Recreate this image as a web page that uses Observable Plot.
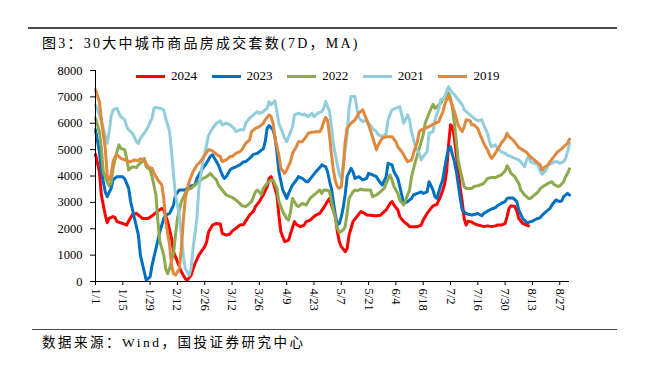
<!DOCTYPE html>
<html><head><meta charset="utf-8">
<script src="https://cdn.jsdelivr.net/npm/d3@7"></script>
<script src="https://cdn.jsdelivr.net/npm/@observablehq/plot@0.6"></script>
<style>
body{margin:0;background:#fff;}
#wrap{position:relative;width:647px;height:365px;overflow:hidden;background:#fff;font-family:"Liberation Serif","Noto Sans CJK SC",serif;color:#000;}
.rule{position:absolute;background:#4a4a4a;}
#title{position:absolute;left:42px;top:36px;font-size:14px;line-height:16px;letter-spacing:2.25px;white-space:nowrap;}
#caption{position:absolute;left:42px;top:335px;font-size:13.5px;line-height:16px;letter-spacing:2.5px;white-space:nowrap;}
#chart{position:absolute;left:0;top:60px;}
.sw{position:absolute;height:3px;width:29px;}
.lt{position:absolute;font-size:13px;line-height:14px;white-space:nowrap;}
</style></head>
<body><div id="wrap">
<div class="rule" style="left:28px;top:27px;width:589px;height:2px;"></div>
<div id="title">图3：30大中城市商品房成交套数(7D，MA)</div>
<div id="chart"></div>
<div class="rule" style="left:32px;top:329px;width:585px;height:1px;"></div>
<div id="caption">数据来源：Wind，国投证券研究中心</div>
</div>
<script>
// x tick labels (axis spans a non-leap calendar year, 1 Jan – 31 Aug)
const tickLabels = ["1/1","1/15","1/29","2/12","2/26","3/12","3/26","4/9","4/23","5/7","5/21","6/4","6/18","7/2","7/16","7/30","8/13","8/27"];
const yTicks = [0,1000,2000,3000,4000,5000,6000,7000,8000];
const seriesNames = ["2024","2023","2022","2021","2019"];
const seriesColors = ["#FF0000","#0070C0","#8DAA4E","#92CDDC","#E0883C"];

// values: [days since 1 Jan, units sold (7-day MA)]
const s2024 = [[0,4820],[2,4160],[3,3280],[5,2520],[6,2230],[7,2390],[9,2460],[10,2420],[11,2270],[14,2200],[16,2140],[17,2290],[19,2540],[21,2580],[23,2460],[24,2390],[27,2390],[29,2490],[32,2670],[34,2770],[35,2710],[37,2270],[39,1630],[40,1130],[42,750],[44,370],[46,110],[47,40],[49,240],[51,680],[53,1000],[56,1320],[57,1510],[58,1890],[60,2140],[62,2200],[64,2180],[65,1820],[67,1760],[69,1800],[70,1910],[72,2010],[74,2140],[76,2160],[77,2290],[79,2520],[81,2670],[82,2840],[84,3030],[86,3280],[88,3600],[89,3910],[90,3975],[91,3785],[93,3280],[94,2520],[95,1890],[97,1510],[99,1570],[100,1820],[102,2270],[103,2160],[105,2080],[107,2140],[108,2270],[110,2330],[112,2460],[113,2520],[115,2580],[117,2800],[119,3050],[120,3150],[121,2900],[123,2460],[124,1890],[125,1510],[126,1320],[128,1130],[129,1250],[130,1760],[131,2010],[132,2270],[134,2460],[136,2650],[138,2580],[139,2520],[141,2510],[143,2490],[144,2490],[146,2510],[148,2650],[149,2710],[151,2960],[152,3030],[153,2900],[155,2710],[156,2460],[158,2270],[160,2160],[161,2080],[163,2080],[165,2080],[167,2140],[168,2330],[170,2580],[172,2770],[173,2870],[175,2920],[177,3250],[178,3450],[179,3700],[180,4165],[181,5180],[182,5940],[183,5880],[184,5430],[185,4800],[186,4165],[187,3530],[188,3030],[189,2390],[190,2140],[191,2290],[193,2250],[194,2200],[196,2140],[198,2110],[199,2080],[201,2110],[203,2080],[205,2110],[206,2140],[208,2140],[210,2200],[211,2460],[212,2770],[213,2870],[215,2840],[216,2670],[217,2390],[219,2200],[221,2140],[222,2110]];
const s2023 = [[0,5750],[2,4920],[3,4160],[5,3400],[6,3215],[8,3530],[9,3850],[11,3975],[12,3975],[14,3975],[15,3890],[17,3530],[18,3030],[20,2390],[22,1760],[23,1000],[25,370],[26,50],[28,180],[29,620],[31,1250],[33,1890],[35,2390],[36,2520],[38,2580],[40,2900],[41,3280],[43,3470],[45,3470],[46,3470],[48,3600],[51,3660],[52,3910],[55,4290],[57,4500],[59,4760],[60,4800],[61,4670],[63,4420],[65,4040],[66,3910],[67,3975],[69,4230],[70,4290],[72,4350],[74,4420],[76,4545],[77,4545],[79,4670],[81,4820],[83,4860],[84,4920],[86,5030],[87,5300],[88,5810],[89,5910],[91,5750],[92,5490],[93,4920],[94,4165],[96,3470],[98,3150],[99,3340],[101,3660],[103,3850],[104,3975],[106,3910],[108,3785],[109,3785],[111,3975],[113,4165],[115,4320],[116,4420],[117,4380],[118,4350],[119,4150],[120,3800],[121,3500],[122,3000],[123,2500],[124,2150],[125,2200],[126,2450],[127,2800],[128,3300],[129,3975],[131,4290],[132,4165],[133,3910],[135,3975],[137,3850],[139,3910],[140,4100],[142,4040],[144,3975],[145,3850],[147,3660],[149,3975],[150,4480],[152,4420],[153,4165],[155,3910],[156,3600],[158,2960],[160,3030],[162,3150],[163,3280],[165,3340],[167,3400],[168,3340],[170,3400],[171,3785],[173,3470],[174,3215],[175,3150],[176,3400],[177,3650],[178,3850],[179,4300],[180,4700],[181,5050],[182,5110],[183,4800],[184,4545],[185,4165],[186,3660],[187,3150],[188,2710],[190,2580],[191,2550],[193,2520],[194,2540],[196,2580],[198,2490],[199,2580],[201,2670],[203,2750],[205,2800],[206,2870],[208,2960],[210,3030],[211,3150],[212,3170],[214,3170],[216,3030],[217,2710],[219,2390],[221,2240],[222,2240],[224,2290],[226,2370],[228,2420],[229,2520],[231,2650],[233,2770],[234,2900],[236,3090],[238,3030],[239,3060],[240,3215],[242,3340],[243,3280]];
const s2022 = [[0,6190],[2,5680],[3,5050],[4,4165],[6,3785],[7,3630],[8,3720],[9,4290],[11,4920],[12,5180],[13,5050],[15,4990],[16,4670],[17,4230],[19,4350],[21,4320],[22,4420],[24,4545],[25,4670],[26,4350],[28,4230],[29,3975],[31,3280],[32,2270],[33,1510],[35,1000],[36,490],[37,300],[38,490],[40,1060],[41,1760],[42,2390],[44,3030],[46,3340],[47,3470],[49,3530],[51,3660],[52,3720],[54,3850],[56,3940],[57,3975],[59,4100],[60,4000],[62,3850],[63,3660],[65,3470],[67,3280],[69,3215],[70,3190],[72,3090],[74,2960],[75,2870],[77,2840],[79,2960],[80,3030],[82,3400],[83,3470],[85,3300],[86,3530],[88,3720],[90,3850],[91,3850],[93,3530],[94,3030],[96,2650],[98,2390],[99,2330],[100,2650],[101,3150],[103,2900],[104,2840],[106,2960],[108,2900],[110,3150],[112,3280],[113,3340],[115,3470],[116,3340],[117,3470],[119,3460],[120,3400],[121,3030],[123,2390],[124,2010],[125,1860],[127,1950],[128,2080],[129,2580],[130,3150],[132,3400],[133,3470],[134,3440],[136,3500],[138,3470],[139,3470],[141,3470],[142,3215],[144,3280],[146,3400],[148,3530],[149,3720],[151,4040],[152,3850],[153,3600],[155,3340],[156,3090],[158,2900],[159,3090],[161,3470],[162,3975],[164,4545],[166,5050],[168,5560],[169,6000],[171,6380],[173,6720],[174,6570],[175,6630],[177,6760],[178,6890],[180,7080],[181,7140],[182,6950],[183,6570],[184,6000],[185,5300],[186,4545],[188,3910],[189,3600],[190,3530],[191,3530],[193,3530],[194,3600],[196,3630],[198,3680],[199,3720],[201,3910],[203,3940],[205,3940],[206,3975],[208,4040],[210,4190],[211,4390],[212,4270],[213,4100],[215,3975],[217,3720],[218,3470],[220,3280],[222,3150],[223,3150],[225,3280],[227,3400],[228,3530],[230,3630],[232,3720],[234,3785],[235,3680],[237,3600],[238,3620],[240,3785],[241,3975],[242,4100],[243,4270]];
const s2021 = [[0,6700],[2,6320],[4,5810],[6,5240],[7,5680],[8,6250],[9,6510],[11,6570],[12,6380],[13,6250],[15,6130],[16,5870],[17,5750],[19,5620],[21,5300],[22,5240],[23,5430],[25,5620],[27,5870],[29,6190],[30,6570],[31,6600],[33,6570],[35,6510],[36,6190],[38,5680],[39,4920],[40,4040],[41,3280],[43,2520],[44,1760],[45,1000],[46,490],[48,240],[49,490],[50,1250],[52,2390],[53,3530],[55,4545],[57,5200],[58,5550],[60,5810],[62,6000],[64,6090],[65,5940],[67,6000],[69,5940],[71,5810],[72,5680],[74,5750],[76,5750],[77,6000],[79,6190],[81,6320],[83,6440],[84,6380],[86,6440],[88,6570],[89,6820],[90,6700],[92,6850],[93,6440],[94,6000],[95,5810],[97,5430],[98,5300],[99,5490],[101,5870],[102,6320],[104,6380],[106,6320],[107,6350],[109,6250],[111,6380],[112,6250],[114,6380],[116,6440],[117,6570],[118,6820],[120,6440],[121,5870],[122,5180],[124,4420],[125,4040],[126,3910],[127,4420],[129,5560],[130,6570],[131,7010],[133,7010],[134,6570],[135,6190],[137,6060],[139,6130],[140,6000],[142,5810],[144,5680],[145,5560],[147,5490],[149,5620],[150,6130],[152,6510],[154,6570],[156,6630],[157,6320],[158,6000],[160,6320],[161,6130],[162,5680],[164,5110],[166,4860],[167,4610],[168,4735],[170,4920],[171,5620],[173,5680],[174,6130],[176,6570],[177,6900],[178,6900],[179,7000],[180,7200],[181,7390],[182,7250],[183,7150],[184,7080],[186,6890],[188,6700],[189,6510],[191,6380],[193,6250],[194,6190],[196,6090],[198,6130],[199,5940],[201,5620],[202,5300],[203,5110],[205,5180],[206,5050],[208,4920],[210,4860],[211,4800],[213,4735],[215,4670],[217,4610],[218,4545],[220,4350],[221,4610],[222,4735],[223,4545],[225,4480],[227,4420],[228,4165],[229,4065],[231,4230],[232,4420],[234,4480],[235,4545],[237,4545],[238,4480],[240,4545],[241,4670],[242,4920],[243,5240]];
const s2019 = [[0,7270],[2,6820],[3,6130],[5,5050],[6,4040],[7,3850],[8,4040],[9,4545],[10,4730],[11,4800],[13,4670],[15,4610],[17,4545],[18,4545],[20,4610],[22,4580],[23,4650],[25,4610],[27,4350],[29,4290],[30,4100],[32,3850],[34,3660],[35,3150],[36,2270],[38,1380],[39,620],[40,300],[41,240],[43,490],[44,1250],[45,2270],[46,3150],[48,3785],[50,4165],[52,4420],[53,4480],[55,4670],[57,4900],[58,5000],[60,4950],[62,4820],[64,4735],[65,4545],[67,4610],[69,4735],[70,4735],[72,4860],[74,4920],[75,4990],[77,5240],[79,5370],[80,5680],[82,5810],[84,5875],[86,6000],[87,6130],[89,6320],[90,6250],[91,6000],[92,5430],[94,4800],[95,4290],[97,4100],[98,4230],[100,4545],[101,4860],[103,5110],[104,5300],[106,5300],[108,5490],[109,5620],[111,5660],[113,5680],[115,5680],[116,5810],[117,6050],[118,6220],[119,6100],[120,5500],[121,4800],[122,4200],[123,3800],[124,3600],[125,3530],[126,3600],[127,4300],[128,5300],[129,5810],[131,6000],[133,6130],[135,6380],[137,6510],[138,6320],[140,5940],[142,5490],[144,4990],[145,5180],[147,5430],[149,5490],[150,5490],[152,5490],[154,5300],[155,5110],[157,4920],[159,4670],[160,4545],[162,4600],[163,4860],[165,5300],[166,5680],[167,5750],[169,5810],[171,5870],[173,5960],[174,6000],[176,6060],[177,6250],[178,6400],[179,6700],[180,6900],[181,7010],[182,6850],[183,6650],[184,6440],[185,6190],[186,5900],[188,5680],[189,5870],[190,6130],[192,6100],[193,5940],[194,5940],[196,5800],[197,5600],[198,5430],[199,5240],[201,4990],[202,4800],[203,4670],[204,4750],[206,4990],[207,5110],[208,5240],[210,5430],[211,5620],[212,5490],[214,5370],[216,5180],[217,5080],[219,4990],[221,4900],[222,4800],[224,4670],[226,4545],[228,4420],[229,4230],[230,4320],[232,4420],[233,4545],[235,4735],[237,4920],[239,5030],[240,5110],[242,5240],[243,5400]];
const seriesValues = [s2024, s2023, s2022, s2021, s2019];

const YEAR = 2023;
const dayToDate = d => new Date(Date.UTC(YEAR, 0, 1 + d));
const labelToDate = s => { const [m, d] = s.split("/").map(Number); return new Date(Date.UTC(YEAR, m - 1, d)); };
const tickDates = tickLabels.map(labelToDate);
const fmt = d3.utcFormat("%-m/%-d");

const rows = seriesNames.flatMap((name, i) => seriesValues[i].map(([d, v]) => ({name, date: dayToDate(d), value: v})));

const chart = Plot.plot({
  width: 647, height: 260,
  marginLeft: 95, marginRight: 78, marginTop: 10, marginBottom: 39,
  style: {fontFamily: "Liberation Serif, serif", fontSize: "12.5px", color: "#000", background: "transparent"},
  x: {type: "utc", domain: [dayToDate(0), dayToDate(243)]},
  y: {domain: [0, 8000]},
  color: {domain: seriesNames, range: seriesColors},
  marks: [
    Plot.axisY({ticks: yTicks, tickSize: 5, tickPadding: 8, tickFormat: d => String(d), label: null, stroke: "#000"}),
    Plot.axisX({ticks: tickDates, tickFormat: fmt, tickRotate: 90, tickSize: 4, tickPadding: 3, label: null, stroke: "#000"}),
    ...seriesNames.map(name => Plot.line(rows.filter(r => r.name === name), {x: "date", y: "value", stroke: "name", strokeWidth: 3, strokeLinejoin: "round"})),
    Plot.ruleX([dayToDate(0)], {stroke: "#000", strokeWidth: 1}),
    Plot.ruleY([0], {stroke: "#000", strokeWidth: 1})
  ]
});
document.getElementById("chart").appendChild(chart);

// legend inside the plot area
const wrap = document.getElementById("wrap");
seriesNames.forEach((name, i) => {
  const left = 136 + i * 75.6;
  const sw = document.createElement("div");
  sw.className = "sw"; sw.style.left = left + "px"; sw.style.top = "74.5px"; sw.style.background = seriesColors[i];
  const t = document.createElement("div");
  t.className = "lt"; t.style.left = (left + 35) + "px"; t.style.top = "69px"; t.textContent = name;
  wrap.appendChild(sw); wrap.appendChild(t);
});
</script>
</body></html>
